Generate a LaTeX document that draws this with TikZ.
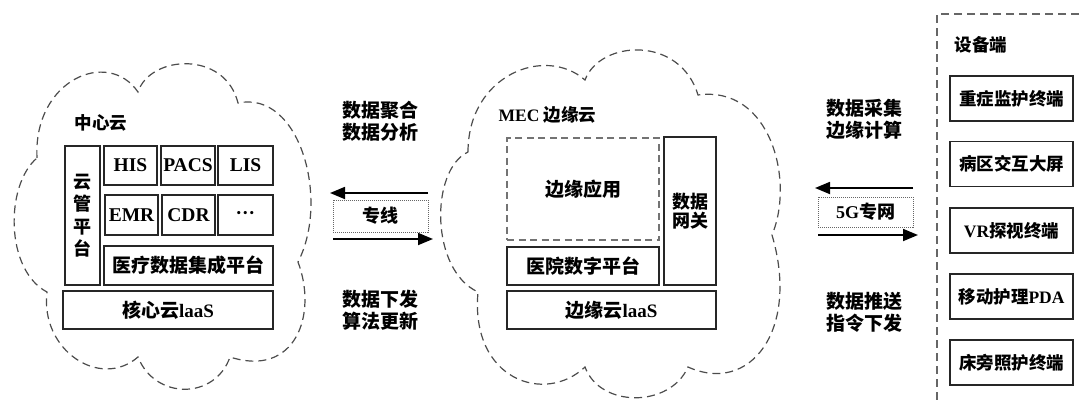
\documentclass[tikz,border=0pt]{standalone}
\usepackage{fontspec}
\setmainfont{Liberation Serif}
\newfontfamily\cjk{Noto Sans CJK SC}
\usetikzlibrary{arrows.meta}
\newcommand{\zh}[1]{{\cjk #1}}
\begin{document}
\begin{tikzpicture}[x=1pt,y=-1pt,
  box/.style={draw=black!85, line width=1.5pt, inner sep=0pt, font=\bfseries\fontsize{19.5}{20}\selectfont},
  devbox/.style={box, minimum width=123pt, minimum height=45pt, font=\bfseries\fontsize{17.5}{20}\selectfont},
  dashbox/.style={draw=black!55, line width=1.3pt, dash pattern=on 7pt off 4.5pt, inner sep=0pt, font=\bfseries\fontsize{19}{20}\selectfont},
  dotbox/.style={draw=black!60, line width=1pt, densely dotted, inner sep=0pt, font=\bfseries\fontsize{18}{20}\selectfont},
  cloud/.style={draw=black!70, line width=1.2pt, dash pattern=on 8pt off 5pt},
  flow/.style={draw=black, line width=1.8pt, -{Triangle[length=15pt,width=12pt]}},
  lbl/.style={inner sep=0pt, align=center, font=\bfseries\fontsize{19}{22}\selectfont},
  ttl/.style={inner sep=0pt, font=\bfseries\fontsize{17.5}{20}\selectfont},
]
\useasboundingbox (0,0) rectangle (1079,400);

% ---------- center cloud ----------
\draw[cloud] (37,158) .. controls (33,80) and (108,48) .. (138,92)
  .. controls (150,55) and (225,50) .. (238,103)
  .. controls (300,90) and (330,200) .. (298,262)
  .. controls (318,315) and (295,378) .. (230,357)
  .. controls (215,400) and (155,400) .. (138,357)
  .. controls (100,390) and (40,350) .. (47,292)
  .. controls (5,270) and (5,185) .. cycle;

\node[ttl] (zx) at (101,123) {\zh{中心云}};
\node[box, minimum width=35pt, minimum height=139pt, align=center, font=\bfseries\fontsize{18}{22.5}\selectfont] (ygpt) at (82.5,215.5) {\zh{云}\\\zh{管}\\\zh{平}\\\zh{台}};
\node[box, minimum width=53pt, minimum height=39pt] (his) at (130.5,165.5) {HIS};
\node[box, minimum width=54pt, minimum height=39pt] (pacs) at (188,165.5) {PACS};
\node[box, minimum width=55pt, minimum height=39pt] (lis) at (245.5,165.5) {LIS};
\node[box, minimum width=53pt, minimum height=40pt] (emr) at (131.5,215) {EMR};
\node[box, minimum width=53pt, minimum height=40pt] (cdr) at (188.5,215) {CDR};
\node[box, minimum width=55pt, minimum height=40pt] (etc) at (245.5,215) {\char"00B7\char"00B7\char"00B7};
\node[box, minimum width=169pt, minimum height=39pt, font=\bfseries\fontsize{19}{20}\selectfont] (ylsj) at (188.5,265.5) {\zh{医疗数据集成平台}};
\node[box, minimum width=210pt, minimum height=38pt, font=\bfseries\fontsize{19}{20}\selectfont] (hxy) at (168,310) {\zh{核心云}laaS};

% ---------- middle link ----------
\node[lbl] (jh) at (380,121) {\zh{数据聚合}\\\zh{数据分析}};
\node[dotbox, minimum width=95pt, minimum height=32pt] (zx1) at (380.5,216) {\zh{专线}};
\node[lbl] (xf) at (380,310) {\zh{数据下发}\\\zh{算法更新}};
\coordinate (a1s) at (428,193);
\coordinate (a1e) at (330,193);
\coordinate (a2s) at (333,239);
\coordinate (a2e) at (433,239);
\draw[flow] (a1s) -- (a1e);
\draw[flow] (a2s) -- (a2e);

% ---------- edge cloud ----------
\draw[cloud] (468,152) .. controls (468,75) and (545,45) .. (585,80)
  .. controls (600,40) and (680,35) .. (698,95)
  .. controls (770,85) and (795,180) .. (772,235)
  .. controls (800,330) and (750,395) .. (688,367)
  .. controls (670,408) and (600,408) .. (585,367)
  .. controls (545,405) and (470,380) .. (478,292)
  .. controls (430,270) and (430,170) .. cycle;

\node[ttl] (mec) at (547.5,115) {MEC \zh{边缘云}};
\node[dashbox, minimum width=152pt, minimum height=102pt] (byyy) at (583,189) {\zh{边缘应用}};
\node[box, minimum width=152pt, minimum height=38pt, font=\bfseries\fontsize{19}{20}\selectfont] (yysz) at (583,266) {\zh{医院数字平台}};
\node[box, minimum width=52pt, minimum height=148pt, align=center, font=\bfseries\fontsize{18}{19}\selectfont] (sjwg) at (690,211) {\zh{数据}\\\zh{网关}};
\node[box, minimum width=209pt, minimum height=38pt, font=\bfseries\fontsize{19}{20}\selectfont] (byy) at (611.5,310) {\zh{边缘云}laaS};

% ---------- right link ----------
\node[lbl] (cj) at (864,119) {\zh{数据采集}\\\zh{边缘计算}};
\node[dotbox, minimum width=95pt, minimum height=30pt] (g5) at (865.5,212) {5G\zh{专网}};
\node[lbl] (ts) at (864,312) {\zh{数据推送}\\\zh{指令下发}};
\coordinate (b1s) at (913,188);
\coordinate (b1e) at (815,188);
\coordinate (b2s) at (818,235);
\coordinate (b2e) at (918,235);
\draw[flow] (b1s) -- (b1e);
\draw[flow] (b2s) -- (b2e);

% ---------- device side ----------
\coordinate (f1) at (1079,14);
\coordinate (f2) at (937,14);
\coordinate (f3) at (937,400);
\draw[draw=black!60, line width=1.2pt, dash pattern=on 8pt off 5pt] (f1) -- (f2) -- (f3);
\node[ttl] (sbd) at (981,45) {\zh{设备端}};
\node[devbox] (d1) at (1011.5,98.5) {\zh{重症监护终端}};
\node[devbox] (d2) at (1011.5,164) {\zh{病区交互大屏}};
\node[devbox] (d3) at (1011.5,230.5) {VR\zh{探视终端}};
\node[devbox] (d4) at (1011.5,296.5) {\zh{移动护理}PDA};
\node[devbox] (d5) at (1011.5,362.5) {\zh{床旁照护终端}};
\end{tikzpicture}
\end{document}
